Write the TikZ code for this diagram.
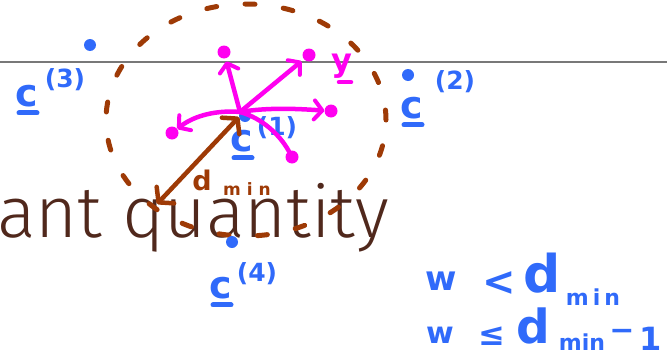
\documentclass[tikz,border=0pt]{standalone}
\usepackage{fontspec}
\usetikzlibrary{arrows.meta}
\newfontfamily\slidefont{Fira Sans Light}
\newfontfamily\handfont{DejaVu Sans}
\definecolor{handblue}{RGB}{48,106,250}
\definecolor{penbrown}{RGB}{158,58,6}
\definecolor{penpink}{RGB}{255,0,240}
\definecolor{slidetext}{RGB}{80,40,28}
\definecolor{rulegray}{RGB}{120,120,120}
\newcommand\fs[1]{\fontsize{#1}{#1}\selectfont}
\tikzset{
  hand/.style={font=\handfont\bfseries, inner sep=0pt, outer sep=0pt},
  bluetext/.style={hand, text=handblue},
  browntext/.style={hand, text=penbrown},
  pinktext/.style={hand, text=penpink},
  bluedot/.style={circle, fill=handblue, inner sep=0pt, minimum size=12pt},
  pinkdot/.style={circle, fill=penpink, inner sep=0pt, minimum size=13pt},
  pinkline/.style={draw=penpink, line width=4.5pt, line cap=round},
  pinkarrow/.style={pinkline, -{Straight Barb[round, length=8pt, width=19pt, line width=4pt]}},
  brownline/.style={draw=penbrown, line width=4.5pt, line cap=round},
  blueline/.style={draw=handblue, line width=5pt, line cap=round},
  browntip/.tip={Straight Barb[round, length=10pt, width=24pt, line width=4.5pt]}
}
\begin{document}
\begin{tikzpicture}[x=1pt,y=-1pt]
\useasboundingbox (0,0) rectangle (667,359);
% slide text and rule
\coordinate (ruleL) at (0,62);
\coordinate (ruleR) at (667,62);
\draw[rulegray, line width=1.2pt] (ruleL) -- (ruleR);
\node[anchor=base west, inner sep=0pt, text=slidetext, font=\slidefont\fs{72}] (slide) at (-3,237) {ant quantity};
% dashed ellipse
\draw[brownline, line width=5pt, dash pattern=on 10pt off 28.5pt] (246,120) ellipse [x radius=140pt, y radius=116pt];
% codewords
\node[bluedot] (c1dot) at (245,116) {};
\node[bluedot] (c2dot) at (408,75) {};
\node[bluedot] (c3dot) at (90,45) {};
\node[bluedot] (c4dot) at (232,242) {};
\node[bluetext, font=\handfont\bfseries\fs{38}] (c1) at (242,141) {c};
\node[bluetext, font=\handfont\bfseries\fs{38}] (c2) at (412,108) {c};
\node[bluetext, font=\handfont\bfseries\fs{38}] (c3) at (27,96) {c};
\node[bluetext, font=\handfont\bfseries\fs{38}] (c4) at (221,288) {c};
\node[bluetext, font=\handfont\bfseries\fs{25}] (c1s) at (277,128) {(1)};
\node[bluetext, font=\handfont\bfseries\fs{25}] (c2s) at (455,82) {(2)};
\node[bluetext, font=\handfont\bfseries\fs{25}] (c3s) at (65,80) {(3)};
\node[bluetext, font=\handfont\bfseries\fs{25}] (c4s) at (257,274) {(4)};
\foreach \c in {c1,c2,c3,c4}{
  \draw[blueline] ([xshift=-8pt,yshift=-6pt]\c.south) -- ([xshift=10pt,yshift=-6pt]\c.south);
}
% pink vectors
\coordinate (o) at (240,112);
\node[pinkdot] (pu) at (224,52) {};
\node[pinkdot] (pur) at (309,55) {};
\node[pinkdot] (pr) at (331,111) {};
\node[pinkdot] (pl) at (172,133) {};
\node[pinkdot] (pd) at (292,157) {};
\draw[pinkarrow, shorten >=3pt] (o) -- (pu);
\draw[pinkarrow, shorten >=3pt] (o) -- (pur);
\draw[pinkarrow] (o) .. controls (270,107) and (300,109) .. (pr);
\draw[pinkarrow] (o) .. controls (218,110) and (195,115) .. (pl);
\draw[pinkline] (o) .. controls (262,118) and (280,135) .. (pd);
\node[pinktext, font=\handfont\bfseries\fs{32}] (ylab) at (342,66) {y};
\draw[pinkline] ([xshift=-3pt,yshift=-4pt]ylab.south) -- ([xshift=9pt,yshift=-4pt]ylab.south);
% d_min arrow
\coordinate (dtop) at (239,117);
\coordinate (dbot) at (157,204);
\draw[brownline, browntip-browntip] (dtop) -- (dbot);
\node[browntext, font=\handfont\bfseries\fs{27}] (dd) at (202,180) {d};
\node[browntext, font=\handfont\bfseries\fs{17}] (dmin) at (247,189) {m\hspace{6pt}i\hspace{6pt}n};
% inequalities
\node[bluetext, font=\handfont\bfseries\fs{34}, anchor=base] (w1) at (441,290) {w};
\node[bluetext, font=\handfont\bfseries\fs{40}] (lt) at (499,284) {<};
\node[bluetext, font=\handfont\bfseries\fs{52}, anchor=base] (d1) at (542,292) {d};
\node[bluetext, font=\handfont\bfseries\fs{22}, anchor=base] (min1) at (593,305) {m\hspace{4pt}i\hspace{4pt}n};
\node[bluetext, font=\handfont\bfseries\fs{30}, anchor=base] (w2) at (440,343) {w};
\node[bluetext, font=\handfont\bfseries\fs{32}] (le) at (492,336) {≤};
\node[bluetext, font=\handfont\bfseries\fs{47}, anchor=base] (d2) at (533,343) {d};
\node[bluetext, font=\handfont\bfseries\fs{22}, anchor=base] (min2) at (582,350) {min};
\node[bluetext, font=\handfont\bfseries\fs{30}] (minus) at (622,335) {−};
\node[bluetext, font=\handfont\bfseries\fs{32}, anchor=base] (one) at (651,350) {1};
\end{tikzpicture}
\end{document}
